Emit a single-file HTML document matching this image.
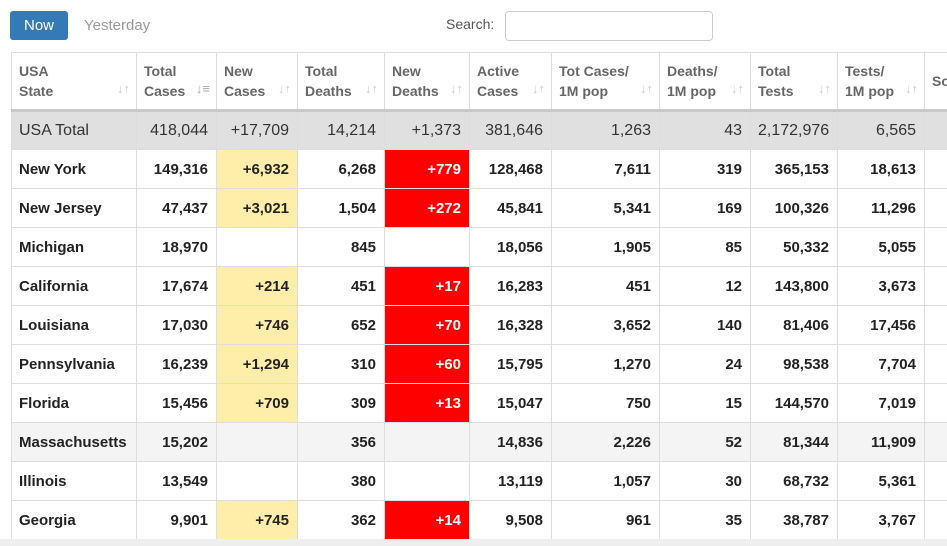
<!DOCTYPE html>
<html><head><style>
body{margin:0;width:947px;height:546px;overflow:hidden;background:#fff;font-family:"Liberation Sans",Arial,sans-serif;position:relative}
.btn{position:absolute;left:10px;top:11px;width:58px;height:29px;background:#337ab7;border-radius:3px;color:#fff;font-size:15px;line-height:29px;text-align:center}
.yd{position:absolute;left:84px;top:17px;font-size:15px;color:#999}
.sl{position:absolute;left:446px;top:16px;font-size:14px;color:#555}
.si{position:absolute;left:505px;top:11px;width:206px;height:28px;border:1px solid #ccc;border-radius:4px}
.wrap{position:absolute;left:11px;top:52px;width:936px;overflow:hidden}
table{border-collapse:collapse;table-layout:fixed;width:960px}
td,th{border:1px solid #ddd;padding:0 8px 0 7px;overflow:hidden;white-space:nowrap}
th{height:56px;text-align:left;font-size:14px;color:#666;font-weight:bold;line-height:20px;vertical-align:middle;border-bottom:3px solid #c8c8c8;position:relative}
th .s{position:absolute;right:6px;bottom:10px;color:#ccc;font-size:13px}
td{height:38px;font-size:15px;font-weight:bold;color:#222;text-align:right}
td:first-child{text-align:left}
tr.t td{background:#e0e0e0;font-weight:normal;color:#333;font-size:16px;height:37px}
tr.m td{background:#f4f4f4}
.y{background:#ffeeaa}
.r{background:#ff0000;color:#fff}
.bot{position:absolute;left:0;top:539px;width:947px;height:7px;background:#eee}
</style></head><body>
<div class="btn">Now</div><div class="yd">Yesterday</div>
<div class="sl">Search:</div><div class="si"></div>
<div class="wrap"><table>
<colgroup><col style="width:125px"><col style="width:80px"><col style="width:81px"><col style="width:87px"><col style="width:85px"><col style="width:82px"><col style="width:108px"><col style="width:91px"><col style="width:87px"><col style="width:87px"><col style="width:47px"></colgroup>
<tr><th>USA<br>State<span class="s">↓↑</span></th><th>Total<br>Cases<span class="s" style="color:#aaa">↓≡</span></th><th>New<br>Cases<span class="s">↓↑</span></th><th>Total<br>Deaths<span class="s">↓↑</span></th><th>New<br>Deaths<span class="s">↓↑</span></th><th>Active<br>Cases<span class="s">↓↑</span></th><th>Tot Cases/<br>1M pop<span class="s">↓↑</span></th><th>Deaths/<br>1M pop<span class="s">↓↑</span></th><th>Total<br>Tests<span class="s">↓↑</span></th><th>Tests/<br>1M pop<span class="s">↓↑</span></th><th>So</th></tr>
<tr class="t"><td>USA Total</td><td>418,044</td><td>+17,709</td><td>14,214</td><td>+1,373</td><td>381,646</td><td>1,263</td><td>43</td><td>2,172,976</td><td>6,565</td><td></td></tr>
<tr><td>New York</td><td>149,316</td><td class="y">+6,932</td><td>6,268</td><td class="r">+779</td><td>128,468</td><td>7,611</td><td>319</td><td>365,153</td><td>18,613</td><td></td></tr>
<tr><td>New Jersey</td><td>47,437</td><td class="y">+3,021</td><td>1,504</td><td class="r">+272</td><td>45,841</td><td>5,341</td><td>169</td><td>100,326</td><td>11,296</td><td></td></tr>
<tr><td>Michigan</td><td>18,970</td><td></td><td>845</td><td></td><td>18,056</td><td>1,905</td><td>85</td><td>50,332</td><td>5,055</td><td></td></tr>
<tr><td>California</td><td>17,674</td><td class="y">+214</td><td>451</td><td class="r">+17</td><td>16,283</td><td>451</td><td>12</td><td>143,800</td><td>3,673</td><td></td></tr>
<tr><td>Louisiana</td><td>17,030</td><td class="y">+746</td><td>652</td><td class="r">+70</td><td>16,328</td><td>3,652</td><td>140</td><td>81,406</td><td>17,456</td><td></td></tr>
<tr><td>Pennsylvania</td><td>16,239</td><td class="y">+1,294</td><td>310</td><td class="r">+60</td><td>15,795</td><td>1,270</td><td>24</td><td>98,538</td><td>7,704</td><td></td></tr>
<tr><td>Florida</td><td>15,456</td><td class="y">+709</td><td>309</td><td class="r">+13</td><td>15,047</td><td>750</td><td>15</td><td>144,570</td><td>7,019</td><td></td></tr>
<tr class="m"><td>Massachusetts</td><td>15,202</td><td></td><td>356</td><td></td><td>14,836</td><td>2,226</td><td>52</td><td>81,344</td><td>11,909</td><td></td></tr>
<tr><td>Illinois</td><td>13,549</td><td></td><td>380</td><td></td><td>13,119</td><td>1,057</td><td>30</td><td>68,732</td><td>5,361</td><td></td></tr>
<tr><td>Georgia</td><td>9,901</td><td class="y">+745</td><td>362</td><td class="r">+14</td><td>9,508</td><td>961</td><td>35</td><td>38,787</td><td>3,767</td><td></td></tr>
</table></div>
<div class="bot"></div>
</body></html>
